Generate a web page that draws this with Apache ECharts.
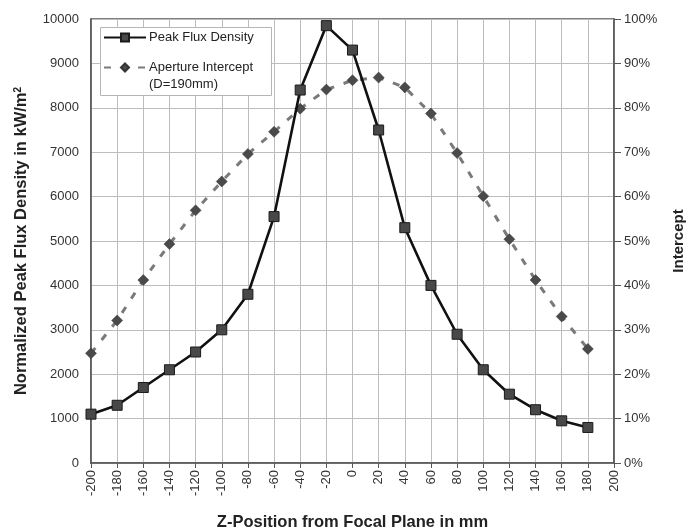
<!DOCTYPE html>
<html>
<head>
<meta charset="utf-8">
<script src="https://cdn.jsdelivr.net/npm/echarts@6/dist/echarts.min.js"></script>
<style>
  html, body { margin: 0; padding: 0; background: #fff; }
  #chart { width: 688px; height: 532px; }
</style>
</head>
<body>
<div id="chart"></div>
<script>
// Z-position from the focal plane (mm)
const zPositions = [-200, -180, -160, -140, -120, -100, -80, -60, -40, -20,
                    0, 20, 40, 60, 80, 100, 120, 140, 160, 180];
// Normalized peak flux density (kW/m²)
const peakFlux = [1100, 1300, 1700, 2100, 2500, 3000, 3800, 5550, 8400, 9850,
                  9300, 7500, 5300, 4000, 2900, 2100, 1550, 1200, 950, 800];
// Aperture intercept for D = 190 mm (%)
const intercept = [24.7, 32.1, 41.2, 49.3, 56.9, 63.4, 69.6, 74.6, 79.8, 84.1,
                   86.2, 86.8, 84.6, 78.7, 69.8, 60.1, 50.4, 41.2, 33.0, 25.7];

const fluxPairs = zPositions.map((z, i) => [z, peakFlux[i]]);
const interceptPairs = zPositions.map((z, i) => [z, intercept[i]]);

const FONT = 'Liberation Sans, Arial, sans-serif';
const chart = echarts.init(document.getElementById('chart'), null, { renderer: 'canvas' });

chart.setOption({
  backgroundColor: '#ffffff',
  animation: false,
  textStyle: { fontFamily: FONT },
  grid: {
    left: 91, right: 74, top: 19, bottom: 69,
    outerBoundsMode: 'none',
    containLabel: false,
    show: true, borderColor: '#555', borderWidth: 1.5, backgroundColor: 'transparent'
  },
  graphic: [{
    type: 'rect', z: 3,
    shape: { x: 100.5, y: 27.5, width: 171, height: 68 },
    style: { fill: '#ffffff', stroke: '#b5b5b5', lineWidth: 1 }
  }],
  legend: [{
    data: ['Peak Flux Density'],
    left: 100, top: 31, z: 5,
    itemWidth: 42, itemHeight: 10, itemGap: 4,
    padding: [0, 0, 0, 3],
    textStyle: { fontFamily: FONT, fontSize: 13, color: '#222', padding: [0, 0, 0, -2] }
  }, {
    data: ['Aperture Intercept'],
    left: 100, top: 42, z: 5,
    itemWidth: 42, itemHeight: 10,
    padding: [0, 0, 0, 3],
    formatter: () => ' \nAperture Intercept\n(D=190mm)',
    textStyle: { fontFamily: FONT, fontSize: 13, color: '#222', lineHeight: 17, padding: [0, 0, 0, -2] }
  }],
  xAxis: {
    type: 'value', min: -200, max: 200, interval: 20,
    name: 'Z-Position from Focal Plane in mm',
    nameLocation: 'middle', nameGap: 51,
    nameTextStyle: { fontFamily: FONT, fontSize: 16.5, fontWeight: 'bold', color: '#222' },
    axisLine: { show: true, onZero: false, lineStyle: { color: '#555', width: 1.5 } },
    axisTick: { show: true, length: 5, lineStyle: { color: '#555' } },
    axisLabel: { rotate: 90, fontSize: 13, color: '#333', margin: 7, fontFamily: FONT },
    splitLine: { show: true, lineStyle: { color: '#bdbdbd', width: 1 } }
  },
  yAxis: [{
    type: 'value', min: 0, max: 10000, interval: 1000, position: 'left',
    name: 'Normalized Peak Flux Density in kW/m{sup|2}',
    nameLocation: 'middle', nameGap: 61, nameRotate: 90,
    nameTextStyle: {
      fontFamily: FONT, fontSize: 16.5, fontWeight: 'bold', color: '#222',
      rich: { sup: { fontSize: 10, fontWeight: 'bold', verticalAlign: 'top', padding: [0, 0, 7, 0], fontFamily: FONT, color: '#222' } }
    },
    axisLine: { show: true, onZero: false, lineStyle: { color: '#555', width: 1.5 } },
    axisTick: { show: false },
    axisLabel: { formatter: (v) => String(v), fontSize: 13, color: '#333', margin: 12, fontFamily: FONT },
    splitLine: { show: true, lineStyle: { color: '#bdbdbd', width: 1 } }
  }, {
    type: 'value', min: 0, max: 100, interval: 10, position: 'right',
    name: 'Intercept',
    nameLocation: 'middle', nameGap: 57, nameRotate: 90,
    nameTextStyle: { fontFamily: FONT, fontSize: 15, fontWeight: 'bold', color: '#222' },
    axisLine: { show: true, onZero: false, lineStyle: { color: '#555', width: 1.5 } },
    axisTick: { show: true, length: 7, inside: false, lineStyle: { color: '#555' } },
    axisLabel: { formatter: '{value}%', fontSize: 13, color: '#333', margin: 10, fontFamily: FONT },
    splitLine: { show: false }
  }],
  series: [{
    name: 'Peak Flux Density',
    type: 'line', yAxisIndex: 0, z: 3,
    data: fluxPairs,
    symbol: 'rect', symbolSize: 10,
    lineStyle: { color: '#111', width: 2.6 },
    itemStyle: { color: '#484848', borderColor: '#1a1a1a', borderWidth: 1 }
  }, {
    name: 'Aperture Intercept',
    type: 'line', yAxisIndex: 1, z: 2,
    data: interceptPairs,
    symbol: 'diamond', symbolSize: 11,
    lineStyle: { color: '#7a7a7a', width: 3, type: [7, 10] },
    itemStyle: { color: '#4a4a4a', borderColor: '#333', borderWidth: 0.5 }
  }]
});
</script>
</body>
</html>
